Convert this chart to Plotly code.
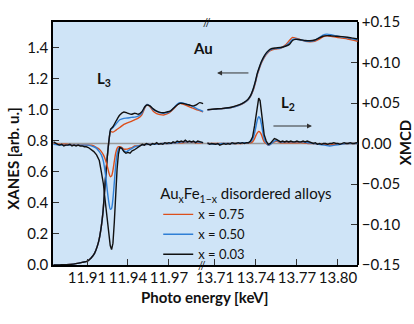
import plotly.graph_objects as go

# ---------------- L3 edge (left panel) : XANES ----------------
E_L3 = [11.8855, 11.890, 11.895, 11.900, 11.904, 11.907, 11.910, 11.913, 11.9155, 11.9175,
        11.919, 11.9205, 11.9218, 11.9233, 11.9248, 11.9262, 11.9273,
        11.929, 11.9315, 11.934, 11.937, 11.9395, 11.9425, 11.945, 11.9475, 11.950, 11.9525,
        11.954, 11.956, 11.9585, 11.961, 11.9635, 11.966, 11.9685, 11.971, 11.9735, 11.976,
        11.978, 11.980, 11.983, 11.9855, 11.988, 11.990, 11.9925, 11.995]
xanes_L3_075 = [0.000, 0.001, 0.002, 0.006, 0.012, 0.018, 0.024, 0.045, 0.075, 0.12,
                0.17, 0.25, 0.35, 0.53, 0.69, 0.81, 0.86,
                0.855, 0.87, 0.885, 0.905, 0.915, 0.925, 0.935, 0.945, 0.965, 1.015,
                1.034, 1.02, 0.99, 0.975, 0.968, 0.965, 0.972, 0.985, 1.005, 1.03,
                1.04, 1.036, 1.026, 1.016, 1.008, 1.0, 0.994, 0.985]
xanes_L3_050 = [0.000, 0.001, 0.002, 0.006, 0.012, 0.018, 0.024, 0.045, 0.075, 0.12,
                0.17, 0.25, 0.35, 0.53, 0.69, 0.81, 0.87,
                0.885, 0.91, 0.935, 0.944, 0.946, 0.95, 0.952, 0.958, 0.975, 1.02,
                1.034, 1.025, 1.0, 0.99, 0.98, 0.977, 0.98, 0.99, 1.01, 1.035,
                1.045, 1.043, 1.035, 1.027, 1.018, 1.008, 0.998, 0.988]
xanes_L3_003 = [0.000, 0.001, 0.002, 0.006, 0.012, 0.018, 0.024, 0.045, 0.075, 0.12,
                0.17, 0.25, 0.35, 0.53, 0.69, 0.81, 0.875,
                0.89, 0.93, 0.965, 0.985, 0.978, 0.97, 0.977, 0.97, 0.985, 1.02,
                1.03, 1.024, 1.005, 0.99, 0.982, 0.98, 0.985, 0.99, 1.01, 1.03,
                1.04, 1.04, 1.034, 1.028, 1.024, 1.03, 1.045, 1.038]

# ---------------- L3 edge : XMCD ----------------
E_L3_mcd = [11.8855, 11.890, 11.895, 11.900, 11.905, 11.909,
            11.911, 11.913, 11.915, 11.917, 11.919, 11.9205,
            11.922, 11.923, 11.924, 11.925, 11.926, 11.927, 11.928, 11.929, 11.930, 11.931,
            11.932, 11.933, 11.934,
            11.9355, 11.937, 11.939, 11.941, 11.943, 11.945, 11.947,
            11.950, 11.955, 11.960, 11.965, 11.970, 11.975, 11.980, 11.985, 11.990, 11.995]
xmcd_L3_075 = [0.000, -0.001, -0.001, -0.002, -0.002, -0.002,
               -0.002, -0.002, -0.003, -0.005, -0.007, -0.010,
               -0.014, -0.018, -0.023, -0.029, -0.036, -0.041, -0.040, -0.033, -0.022, -0.012,
               -0.006, -0.004, -0.004,
               -0.005, -0.007, -0.007, -0.006, -0.005, -0.003, -0.003,
               -0.002, -0.001, -0.001, 0.000, 0.000, 0.001, 0.001, 0.002, 0.001, 0.001]
xmcd_L3_050 = [-0.001, -0.002, -0.002, -0.002, -0.002, -0.002,
               -0.002, -0.003, -0.004, -0.006, -0.010, -0.014,
               -0.022, -0.032, -0.045, -0.060, -0.073, -0.081, -0.080, -0.068, -0.048, -0.027,
               -0.013, -0.007, -0.005,
               -0.006, -0.009, -0.010, -0.008, -0.006, -0.004, -0.003,
               -0.002, -0.001, -0.001, 0.000, 0.000, 0.001, 0.002, 0.002, 0.002, 0.001]
E_L3_mcd_003 = [11.8855, 11.887, 11.8885, 11.890, 11.8915, 11.893, 11.8945, 11.896, 11.8975,
                11.899, 11.9005, 11.902, 11.9035, 11.905, 11.9065, 11.908, 11.9095, 11.911,
                11.913, 11.915, 11.917, 11.919, 11.9205, 11.922, 11.923, 11.924, 11.925,
                11.926, 11.927, 11.928, 11.929, 11.930, 11.931, 11.932, 11.933, 11.934,
                11.9355, 11.937, 11.9385, 11.940, 11.9415, 11.943, 11.9445, 11.946, 11.9475,
                11.949, 11.9505, 11.952, 11.9535, 11.955, 11.9565, 11.958, 11.9595, 11.961,
                11.9625, 11.964, 11.9655, 11.967, 11.9685, 11.970, 11.9715, 11.973, 11.9745,
                11.976, 11.9775, 11.979, 11.9805, 11.982, 11.9835, 11.985, 11.9865, 11.988,
                11.9895, 11.991, 11.9925, 11.994, 11.995]
xmcd_L3_003 = [0.002, 0.000, -0.001, -0.002, -0.001, -0.003, -0.002, -0.002, -0.001,
               -0.003, -0.002, -0.003, -0.002, -0.003, -0.003, -0.004, -0.004, -0.005,
               -0.007, -0.010, -0.014, -0.021, -0.035, -0.050, -0.066, -0.083, -0.099,
               -0.114, -0.126, -0.131, -0.123, -0.097, -0.062, -0.032, -0.013, -0.005,
               -0.006, -0.010, -0.012, -0.011, -0.012, -0.009, -0.008, -0.006, -0.004,
               -0.003, -0.001, -0.002, 0.000, -0.001, -0.002, 0.000, -0.001, 0.001,
               -0.001, 0.000, -0.001, 0.001, 0.000, 0.001, 0.000, 0.002, 0.001,
               0.003, 0.002, 0.003, 0.002, 0.004, 0.002, 0.003, 0.002, 0.003,
               0.001, 0.003, 0.002, 0.001, 0.001]

# ---------------- L2 edge (right panel) : XANES ----------------
E_L2 = [13.7045, 13.710, 13.716, 13.722, 13.7275, 13.731, 13.734, 13.736, 13.738, 13.7395,
        13.741, 13.7425, 13.744, 13.746, 13.748, 13.7505, 13.754, 13.758, 13.7615, 13.7645,
        13.7668, 13.769, 13.7725, 13.776, 13.7795, 13.783, 13.786, 13.789, 13.792, 13.795,
        13.799, 13.803, 13.807, 13.811, 13.8145]
xanes_L2_075 = [0.998, 1.003, 1.007, 1.014, 1.028, 1.042, 1.06, 1.085, 1.125, 1.17,
                1.225, 1.265, 1.30, 1.335, 1.36, 1.38, 1.39, 1.395, 1.415, 1.445,
                1.465, 1.46, 1.45, 1.44, 1.437, 1.44, 1.452, 1.468, 1.475, 1.472,
                1.465, 1.46, 1.455, 1.447, 1.44]
xanes_L2_050 = [0.998, 1.003, 1.007, 1.014, 1.028, 1.043, 1.062, 1.087, 1.13, 1.175,
                1.23, 1.27, 1.305, 1.34, 1.365, 1.385, 1.393, 1.397, 1.41, 1.43,
                1.452, 1.455, 1.45, 1.442, 1.44, 1.445, 1.462, 1.48, 1.486, 1.482,
                1.474, 1.468, 1.462, 1.455, 1.45]
xanes_L2_003 = [1.000, 1.004, 1.008, 1.015, 1.03, 1.045, 1.065, 1.09, 1.135, 1.18,
                1.235, 1.275, 1.31, 1.345, 1.37, 1.39, 1.397, 1.40, 1.408, 1.42,
                1.445, 1.452, 1.45, 1.445, 1.443, 1.448, 1.46, 1.472, 1.476, 1.475,
                1.472, 1.47, 1.466, 1.46, 1.455]

# ---------------- L2 edge : XMCD ----------------
E_L2_mcd = [13.7045, 13.710, 13.715, 13.720, 13.725, 13.730, 13.734,
            13.736, 13.7375, 13.739, 13.740, 13.741, 13.742, 13.743, 13.744, 13.745, 13.746,
            13.7475, 13.749, 13.7505, 13.752, 13.7535, 13.755, 13.7565, 13.758,
            13.762, 13.766, 13.770, 13.774, 13.778, 13.782, 13.786, 13.790, 13.794, 13.798,
            13.802, 13.806, 13.810, 13.8145]
xmcd_L2_075 = [0.000, 0.000, 0.000, 0.000, 0.000, 0.000, 0.001,
               0.001, 0.002, 0.006, 0.010, 0.013, 0.015, 0.014, 0.011, 0.006, 0.002,
               0.000, -0.002, -0.001, 0.001, 0.002, 0.003, 0.002, 0.001,
               0.001, 0.001, 0.001, 0.001, 0.000, 0.000, -0.001, -0.001, -0.002, -0.001,
               -0.001, 0.000, 0.000, 0.000]
xmcd_L2_050 = [0.000, -0.001, 0.000, 0.000, 0.000, 0.001, 0.001,
               0.002, 0.005, 0.013, 0.021, 0.029, 0.033, 0.031, 0.024, 0.014, 0.006,
               0.001, -0.002, -0.001, 0.001, 0.003, 0.004, 0.003, 0.002,
               0.002, 0.002, 0.002, 0.002, 0.001, 0.000, -0.001, -0.002, -0.003, -0.002,
               -0.001, 0.000, 0.000, 0.000]
E_L2_mcd_003 = [13.7045, 13.706, 13.7075, 13.709, 13.7105, 13.712, 13.7135, 13.715, 13.7165,
                13.718, 13.7195, 13.721, 13.7225, 13.724, 13.7255, 13.727, 13.7285, 13.730,
                13.7315, 13.733, 13.7345, 13.736, 13.7375, 13.739, 13.740, 13.741, 13.742,
                13.743, 13.744, 13.745, 13.746, 13.7475, 13.749, 13.7505, 13.752, 13.7535,
                13.755, 13.7565, 13.758, 13.7595, 13.761, 13.7625, 13.764, 13.7655, 13.767,
                13.7685, 13.770, 13.7715, 13.773, 13.7745, 13.776, 13.7775, 13.779, 13.7805,
                13.782, 13.7835, 13.785, 13.7865, 13.788, 13.7895, 13.791, 13.7925, 13.794,
                13.7955, 13.797, 13.7985, 13.800, 13.8015, 13.803, 13.8045, 13.806, 13.8075,
                13.809, 13.8105, 13.812, 13.8135, 13.8145]
xmcd_L2_003 = [0.001, -0.001, 0.000, -0.001, -0.001, 0.000, -0.002, -0.001, 0.000,
               -0.001, 0.000, -0.001, 0.001, 0.000, 0.000, 0.001, 0.000, 0.001,
               0.000, 0.001, 0.001, 0.003, 0.008, 0.022, 0.035, 0.049, 0.056,
               0.053, 0.040, 0.024, 0.011, 0.003, -0.001, 0.000, 0.003, 0.006,
               0.005, 0.003, 0.002, 0.003, 0.002, 0.003, 0.002, 0.003, 0.002,
               0.002, 0.003, 0.002, 0.002, 0.003, 0.002, 0.003, 0.002, 0.001,
               0.000, 0.001, -0.001, 0.000, -0.001, 0.000, 0.000, -0.001, 0.000,
               0.000, 0.001, 0.000, 0.000, -0.001, 0.000, 0.001, 0.000, 0.000,
               0.001, 0.000, 0.000, 0.001, 0.000]

# ---------------- labels / ticks ----------------
series_names = ["x = 0.75", "x = 0.50", "x = 0.03"]
series_colors = ["#dc4f1c", "#2f7fd5", "#111111"]
left_xticks = [11.91, 11.94, 11.97]
right_xticks = [13.71, 13.74, 13.77, 13.80]
left_top_ticks = [11.895, 11.91, 11.925, 11.94, 11.955, 11.97, 11.985]
right_top_ticks = [13.71, 13.725, 13.74, 13.755, 13.77, 13.785, 13.80]
xanes_ticks = [0.0, 0.2, 0.4, 0.6, 0.8, 1.0, 1.2, 1.4]
xmcd_ticks = [-0.15, -0.10, -0.05, 0.0, 0.05, 0.10, 0.15]
xmcd_ticktext = ["\u22120.15", "\u22120.10", "\u22120.05", "0.00", "+0.05", "+0.10", "+0.15"]

FONT = "Lato, 'Noto Sans', sans-serif"
BG = "#cfe4f7"

xanes_L3 = [xanes_L3_075, xanes_L3_050, xanes_L3_003]
xanes_L2 = [xanes_L2_075, xanes_L2_050, xanes_L2_003]
mcd_L3 = [(E_L3_mcd, xmcd_L3_075), (E_L3_mcd, xmcd_L3_050), (E_L3_mcd_003, xmcd_L3_003)]
mcd_L2 = [(E_L2_mcd, xmcd_L2_075), (E_L2_mcd, xmcd_L2_050), (E_L2_mcd_003, xmcd_L2_003)]

fig = go.Figure()
for i in range(3):
    lw = 1.4
    fig.add_trace(go.Scatter(x=E_L3, y=xanes_L3[i], xaxis="x", yaxis="y", mode="lines",
                             line=dict(color=series_colors[i], width=lw, shape="spline", smoothing=0.6),
                             name=series_names[i], showlegend=True))
    fig.add_trace(go.Scatter(x=E_L2, y=xanes_L2[i], xaxis="x2", yaxis="y", mode="lines",
                             line=dict(color=series_colors[i], width=lw, shape="spline", smoothing=0.6),
                             name=series_names[i], showlegend=False))
    fig.add_trace(go.Scatter(x=mcd_L3[i][0], y=mcd_L3[i][1], xaxis="x", yaxis="y2", mode="lines",
                             line=dict(color=series_colors[i], width=lw, shape="spline" if i < 2 else "linear", smoothing=0.6),
                             name=series_names[i], showlegend=False))
    fig.add_trace(go.Scatter(x=mcd_L2[i][0], y=mcd_L2[i][1], xaxis="x2", yaxis="y2", mode="lines",
                             line=dict(color=series_colors[i], width=lw, shape="spline" if i < 2 else "linear", smoothing=0.6),
                             name=series_names[i], showlegend=False))

split = 0.4984
common_x = dict(showgrid=False, zeroline=False, ticks="inside", ticklen=6, tickwidth=1.2,
                tickcolor="#333", showline=True, linecolor="black", linewidth=1.5, mirror=True,
                ticklabelstandoff=-2,
                tickfont=dict(family=FONT, size=15, color="#111"))
fig.update_layout(
    width=414, height=324,
    margin=dict(l=53, r=56, t=16, b=59),
    paper_bgcolor="white", plot_bgcolor=BG,
    font=dict(family=FONT, size=15, color="#111"),
    xaxis=dict(domain=[0, split], range=[11.8851, 11.9964], tickvals=left_xticks,
               ticktext=["%.2f" % v for v in left_xticks], anchor="y", **common_x),
    xaxis2=dict(domain=[split, 1], range=[13.7027, 13.8147], tickvals=right_xticks,
                ticktext=["%.2f" % v for v in right_xticks], anchor="y", **common_x),
    xaxis3=dict(overlaying="x", side="top", range=[11.8851, 11.9964], tickvals=left_top_ticks,
                showticklabels=False, ticks="inside", ticklen=6, tickwidth=1.2, tickcolor="#333",
                showgrid=False, zeroline=False, showline=False, anchor="y"),
    xaxis4=dict(overlaying="x2", side="top", range=[13.7027, 13.8147], tickvals=right_top_ticks,
                showticklabels=False, ticks="inside", ticklen=6, tickwidth=1.2, tickcolor="#333",
                showgrid=False, zeroline=False, showline=False, anchor="y"),
    yaxis=dict(range=[0, 1.564], anchor="x", tickvals=xanes_ticks,
               ticktext=["%.1f" % v for v in xanes_ticks], ticks="inside", ticklen=6, tickwidth=1.2,
               tickcolor="#333", showline=True, linecolor="black", linewidth=1.5,
               showgrid=False, zeroline=False, tickfont=dict(family=FONT, size=15, color="#111")),
    yaxis2=dict(range=[-0.15, 0.15], overlaying="y", side="right", anchor="free", position=1,
                tickvals=xmcd_ticks, ticktext=xmcd_ticktext, ticks="inside", ticklen=6, tickwidth=1.2,
                tickcolor="#333", showline=True, linecolor="black", linewidth=1.5,
                showgrid=False, zeroline=False, tickfont=dict(family=FONT, size=15, color="#111")),
    legend=dict(x=0.345, y=0.35, xanchor="left", yanchor="top", bgcolor="rgba(0,0,0,0)",
                font=dict(family=FONT, size=13, color="#111"), itemwidth=30, tracegroupgap=0,
                title=dict(text="Au<sub>x</sub>Fe<sub>1\u2212x</sub> disordered alloys",
                           font=dict(family=FONT, size=15, color="#111"))),
)

# zero line of XMCD
fig.add_shape(type="line", xref="paper", x0=0, x1=1, yref="y2", y0=0, y1=0,
              line=dict(color="#999999", width=1.5), layer="below")

C = dict(xanchor="center", yanchor="middle", showarrow=False)
ann = []
ann.append(dict(text="<b>Au</b>", xref="paper", yref="paper", x=0.492, y=0.893,
                font=dict(family=FONT, size=15), **C))
ann.append(dict(text="<b>L<sub>3</sub></b>", xref="paper", yref="paper", x=0.168, y=0.765,
                font=dict(family=FONT, size=15), **C))
ann.append(dict(text="<b>L<sub>2</sub></b>", xref="paper", yref="paper", x=0.772, y=0.665,
                font=dict(family=FONT, size=15), **C))
ann.append(dict(text="", x=13.7115, y=1.236, xref="x2", yref="y", ax=13.7356, ay=1.236,
                axref="x2", ayref="y", showarrow=True, arrowhead=2, arrowsize=1, arrowwidth=1,
                arrowcolor="#333"))
ann.append(dict(text="", x=13.781, y=0.0216, xref="x2", yref="y2", ax=13.7517, ay=0.0216,
                axref="x2", ayref="y2", showarrow=True, arrowhead=2, arrowsize=1, arrowwidth=1,
                arrowcolor="#333"))
ann.append(dict(text="<b>Photo energy [keV]</b>", xref="paper", yref="paper", x=0.497, y=-0.1325,
                font=dict(family=FONT, size=15), **C))
ann.append(dict(text="<b>XANES [arb. u.]</b>", xref="paper", yref="paper", x=-0.134, y=0.438,
                textangle=-90, font=dict(family=FONT, size=15), **C))
ann.append(dict(text="<b>XMCD</b>", xref="paper", yref="paper", x=1.155, y=0.506,
                textangle=-90, font=dict(family=FONT, size=15), **C))
ann.append(dict(text="//", xref="paper", yref="paper", x=split + 0.006, y=1.0,
                font=dict(family=FONT, size=11), **C))
ann.append(dict(text="//", xref="paper", yref="paper", x=split - 0.01, y=-0.004,
                font=dict(family=FONT, size=11), **C))
fig.update_layout(annotations=ann)

fig.write_html("out.html")
